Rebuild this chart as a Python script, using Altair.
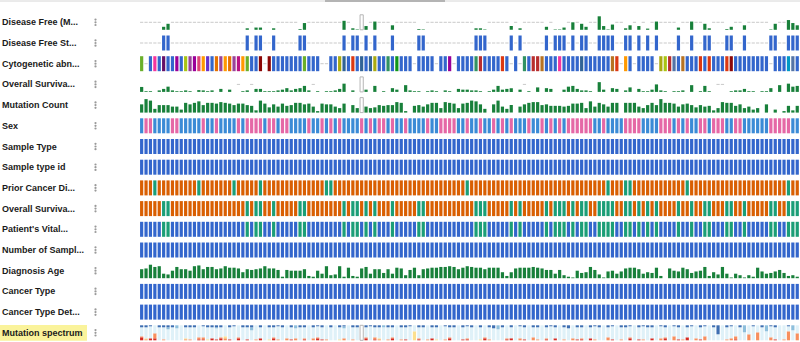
import altair as alt
import pandas as pd

N = 150

track_labels = [
    "Disease Free (M...", "Disease Free St...", "Cytogenetic abn...", "Overall Surviva...",
    "Mutation Count", "Sex", "Sample Type", "Sample type id", "Prior Cancer Di...",
    "Overall Surviva...", "Patient's Vital...", "Number of Sampl...", "Diagnosis Age",
    "Cancer Type", "Cancer Type Det...", "Mutation spectrum",
]

# samples shown as empty outlined boxes (not profiled) in some tracks
outlined_samples = [50]
outlined_tracks = [0, 3, 4, 15]

# Disease Free (Months): sample index -> value (0-10 track units); others NA
disease_free_months = {
    5: 2, 6: 4, 24: 1, 26: 1.5, 27: 1.5, 30: 1, 36: 0.5, 37: 4.5, 46: 6, 48: 1, 49: 0.3,
    51: 2.5, 53: 5.5, 57: 3, 63: 0.5, 64: 0.3, 76: 1, 77: 1, 78: 0.3, 84: 2.5, 86: 1,
    92: 2, 94: 0.3, 95: 0.3, 96: 1.5, 98: 5, 100: 4, 101: 2, 104: 9, 105: 2.5, 106: 0.3,
    107: 3.5, 110: 1, 111: 3, 113: 2.5, 115: 0.8, 117: 5.5, 122: 1.5, 125: 5.5, 128: 4,
    129: 1, 133: 0.5, 134: 2, 137: 3, 143: 0.3, 144: 4, 147: 6.5, 148: 4.5, 149: 3,
}

# Disease Free Status: D = DiseaseFree, n = NA
disease_free_status = (
    "nnnnnDDnnn" "nnnnnnnnnn" "nnnnDnDDnn" "DnnnnnDDnn" "nnnnnnDnDD"
    "nDnDnnnDnn" "nnnDDnnnnn" "nnnnnnDDDn" "nnnnDnDnnn" "nnDnDDDnDn"
    "DDnnDDDDnn" "DDnDnDnDnn" "nnDnnDnnDD" "nnnDDnnDnn" "nnnDDnnDDD"
)

# Cytogenetic abnormalities (one code per sample, n = NA)
cytogenetic = (
    "gnBkBuBBvB" "lwvroyBOwo" "OwmogBBDnD" "BBBBBBBgBB" "BnnBBatBEB"
    "tBtaBBGBhB" "BBnBBBBnBB" "vnBBBBGRBB" "BBEBnBnGBR" "RbBBBkBBBB"
    "tBBBBBBbEn" "oBnBBBBnal" "RsBbBBBEBE" "BBBEDBBBBB" "BBBnBBBcsB"
)

overall_survival_months = [
    3.3, 0.5, 0.5, 0, 1, 2, 3.5, 1, 0.5, 0.5,
    1, 0.5, 0, 1.2, 1, 0.5, 1, 0, 2, 0,
    1.5, 0, None, 0.5, 1, None, 2, 2, 0.5, 0.5,
    0.5, 1, 1.5, 2.5, 1, 2, 2.5, 4, 1, None,
    0.5, 0, 0.5, 0.5, 1, 2, 5.5, 0, 1, 0,
    None, 1.5, 0, 4, 0, 0.5, 0, 2.5, 1.5, 0,
    4.5, 1, 0.5, 0.5, 0, 0.5, 1, 0.5, 0, 1,
    0.5, 0, 2, 1.5, 1.5, 1, 1, 0.5, 0, 0.5,
    1.5, 4, 1.5, 2, 2.5, 0, 1.5, None, 0.5, 0,
    3, 0, 2.5, 2, 0, 0, 1.5, 3.5, 4, 2,
    1, 1, 0.5, 0, 6.5, 1.5, 0, 2.5, 2, 0,
    1, 3, 0, 2, 0.5, 0.5, 1.5, 5, 1, 0.5,
    0, 0.5, 0.5, 1, 0, 4.5, 0, 0.5, 4, 0.5,
    0, None, None, 0, 0.5, 1, 1, 2, 0.5, 0.5,
    0, 0.5, 0.5, 2.5, 0, 4.5, 0, 5.5, 3.5, 4,
]

mutation_count = [
    5.5, 9, 8, 2.5, 5, 5, 5, 4, 4, 2,
    6.5, 5.5, 6.5, 7.5, 5, 6.5, 6.5, 6, 7, 6.5,
    6, 5, 6, 6, 5, 4.5, 1.5, 8, 6, 3.5,
    5.5, 4, 6, 4.5, 5, 6.5, 6.5, 5.5, 6, 4,
    1, 6, 5.5, 5.5, 4, 3, 6, None, 5, 3,
    None, 4, 3, 3.5, 5, 4.5, 5, 5, 7, 6.5,
    1, None, 4.5, 5, 4, 5.5, 6.5, 6.5, 3, 7,
    6.5, 6, 3, 6, 6.5, 8, 7.5, 5.5, 2.5, None,
    5.5, 8, 4, 2.5, 5, None, 4, 5.5, 6.5, 7,
    7, 5, 5.5, 4.5, 4.5, 4.5, 4, 4.5, 6, 6,
    6.5, 3, 7.5, 4, 6.5, 5.5, 4, 6.5, 6.5, None,
    6.5, 6.5, 6.5, 4, 3, 5, 6.5, 5, 9, 6.5,
    6.5, 6, 4, 5.5, 6, 5, 3.5, 5, 4, 4.5,
    1.5, 3, 7, 6.5, 6.5, 4.5, 5.5, 3, 4, 2,
    3, None, 5.5, None, 2, None, 1, 4.5, 1.5, 4.5,
]

# Sex: M = Male, F = Female
sex = (
    "MFFMMMMFFM" "MMMMFMMFMM" "MMFMFFFFMF" "FMFFMMMMFM" "MFMFMFMMMM"
    "FMFMFFMFMM" "FMMMMFMMFF" "FFMMFMMFMM" "FMFMFMMMFM" "MFMFMFMFFF"
    "FFFMMFMMMM" "FFFFMMMMFF" "FMFMFMMFFM" "FFFMMFFMMM" "MMMFFFFFMM"
)

sample_type = ["Primary"] * N
sample_type_id = ["03"] * N

# Prior Cancer Diagnosis: N = No, Y = Yes
prior_cancer = (
    "NNNYNNNNNN" "NNNYNNNNNN" "NYNNNNNYNN" "NNNNNNNNNN" "NNYYNNNNNN"
    "NNNNNNNNNN" "NNNNNNNNNN" "NNNNYNNNNN" "NNNNNNNNNN" "NNNNNNNNNN"
    "NNNNNNYNNN" "YYNNNNNNNN" "NNNNYNNNNN" "NNNNNNNNNN" "NNNNNNNYNN"
)

# Overall Survival Status: D = Deceased, L = Living
os_status = (
    "DDDDDLLDDD" "DDDDDDDDDD" "DDDDLDLLDD" "LDDDDDLLDD" "DDDDDDLDLL"
    "DLDLDDDLDD" "DDDLLDDDDD" "DDDDDDLLLD" "DDDDLDLDDD" "DDLDLLLDLD"
    "LLDDLLLLDD" "LLDLDLDLDD" "DDLDDLDDLL" "DDDLLDDLDD" "DDDLLDDLLL"
)

# Patient's Vital Status: D = Dead, A = Alive
vital_status = (
    "DDDDDAADDD" "DDDDDDDDDD" "DDDDADAADD" "ADDDDDAADD" "DDDDDDADAA"
    "DADADDDADD" "DDDAADDDDD" "DDDDDDAAAD" "DDDDADADDD" "DDADAAADAD"
    "AADDAAAADD" "AADADADADD" "DDADDADDAA" "DDDAADDADD" "DDDAADDAAA"
)

number_of_samples = [1] * N

diagnosis_age = [
    6, 6.5, 9, 7.5, 8, 3, 2.5, 5, 7.5, 6,
    6, 5, 8, 8.5, 6, 7.5, 7.5, 6, 6.5, 8,
    7, 7, 6.5, 4, 6, 5.5, 6, 6.5, 8, 6.5,
    6.5, 5.5, 1, 5.5, 5, 5, 5, 6, 1.5, 1,
    5, 3, 8, 2, 2.5, 8, 1, 7, 1.5, 1,
    6.5, 7.5, 3, 6, 6, 3.5, 6, 3, 7, 6.5,
    2, 5.5, 7, 2, 6, 6.5, 7, 7, 7.5, 7.5,
    8, 7.5, 6, 7, 8, 7.5, 7, 7, 6, 7,
    7, 7, 4, 1.5, 4, 6.5, 7, 7, 7, 7.5,
    7, 6.5, 5.5, 5.5, 3, 5.5, 2, 1, 0.5, 5,
    3.5, 4, 7.5, 5.5, 2.5, 0.5, 4.5, 5, 3, 4.5,
    6.5, 7, 7, 6, 3, 4, 3.5, 7, 1.5, None,
    6.5, 5, 4.5, 7, 6, 3.5, 4.5, 5, 7.5, 1.5,
    4, 2.5, 7.5, 3, 0.5, 3, 2, 0.5, 2, 1,
    7, 4.5, 3, 3.5, 4.5, 5.5, 3.5, 1.5, 2, 1,
]

cancer_type = ["Leukemia"] * N
cancer_type_detailed = ["Acute Myeloid Leukemia"] * N

# Mutation spectrum per sample: C>A, C>G, T>A, T>C, T>G (in 15ths); C>T fills the rest
mutation_spectrum = [
    "20013", "20110", "10002", "00052", "20000", "20010", "22000", "20000", "03000", "00000",
    "20110", "20010", "20000", "00021", "10021", "20100", "20002", "21001", "20012", "00220",
    "20001", "10000", "00012", "20000", "20001", "23000", "00010", "20002", "00000", "20100",
    "20012", "10010", "20000", "00020", "20001", "03020", "20000", "20011", "00000", "20020",
    "10012", "20001", "00010", "20000", "00000", "20100", "12020", "00000", "20010", "20000",
    None, "20012", "10000", "20021", "20110", "02000", "20010", "20012", "00000", "20010",
    "20001", "10000", "00900", "20011", "20000", "00010", "20002", "20100", "00000", "10010",
    "20012", "20000", "00000", "20001", "10011", "20000", "00000", "20100", "00012", "20010",
    "30000", "04000", "20000", "00011", "20002", "00000", "10020", "20001", "00000", "20030",
    "20010", "00000", "20011", "10000", "20002", "00000", "20010", "30000", "00020", "20001",
    "20011", "00000", "20002", "10010", "20000", "00000", "20030", "10001", "00000", "20010",
    "20000", "10012", "00000", "20001", "10010", "20000", "20002", "00000", "10020", "20012",
    "00000", "10040", "20001", "00010", "20003", "10000", "00020", "20001", "10040", "00000",
    "20000", "90000", "00000", "20010", "10020", "00031", "20000", "07000", "00060", "10000",
    "00080", "20000", "06000", "10030", "20001", "00000", "00010", "10090", "05000", "00070",
]

for seq in [disease_free_status, cytogenetic, overall_survival_months, mutation_count, sex,
            prior_cancer, os_status, vital_status, diagnosis_age, mutation_spectrum]:
    assert len(seq) == N, len(seq)

# ---------------- styles ----------------
palette = {
    "numeric": "#18803a", "blue": "#3366cc", "male": "#3b8bd6", "female": "#e568a6",
    "orange": "#d95f02", "teal": "#1b9e77",
    "C>A": "#3d6eb1", "C>G": "#8ebfdc", "C>T": "#dff1f8",
    "T>A": "#fce08e", "T>C": "#f78f5e", "T>G": "#d62b23",
}
cyto_colors = {
    "g": "#6aaf2a", "k": "#f4359e", "u": "#651067", "v": "#990099", "w": "#994499",
    "r": "#dd4477", "o": "#ff9900", "O": "#e67300", "y": "#6633cc", "m": "#b91383",
    "l": "#a9c413", "D": "#8b0707", "R": "#b82e2e", "E": "#dc3912", "a": "#aaaa11",
    "t": "#316395", "G": "#329262", "h": "#109618", "c": "#0099c6", "b": "#b77322",
    "s": "#5574a6",
}
for code, col in cyto_colors.items():
    palette["cyto_" + code] = col

PITCH = 20.7          # px between track tops
TOP0 = 14.8           # px top of first track
TRACK_H = 15 / PITCH  # track height in track units
COL_PX = 4.4          # px per sample
COL0 = 141.65         # px center of sample 0
HALF = 1.6 / COL_PX   # half bar width
NA_T = 0.5 / PITCH

X_DOMAIN = [-COL0 / COL_PX, (800 - COL0) / COL_PX]
Y_DOMAIN = [-TOP0 / PITCH, (342 - TOP0) / PITCH]

bars, dashes, boxes = [], [], []


def add_bar(track, col, lo, hi, key):
    bars.append({"xa": col - HALF, "xb": col + HALF,
                 "ya": track + TRACK_H * (1 - hi), "yb": track + TRACK_H * (1 - lo),
                 "key": key})


def add_dash(track, col):
    mid = track + TRACK_H / 2
    dashes.append({"xa": col - HALF, "xb": col + HALF, "ya": mid - NA_T, "yb": mid + NA_T})


def add_box(track, col):
    boxes.append({"xa": col - HALF, "xb": col + HALF, "ya": track, "yb": track + TRACK_H})


def numeric_track(track, values, na_dash):
    for i, v in enumerate(values):
        if track in outlined_tracks and i in outlined_samples:
            add_box(track, i)
        elif v is None:
            if na_dash:
                add_dash(track, i)
        elif v > 0:
            add_bar(track, i, 0, v / 10, "numeric")


def categorical_track(track, values, mapping):
    for i, v in enumerate(values):
        key = mapping(v)
        if key is None:
            add_dash(track, i)
        else:
            add_bar(track, i, 0, 1, key)


numeric_track(0, [disease_free_months.get(i) for i in range(N)], True)
categorical_track(1, disease_free_status, lambda c: "blue" if c == "D" else None)
categorical_track(2, cytogenetic, lambda c: None if c == "n" else ("blue" if c == "B" else "cyto_" + c))
numeric_track(3, overall_survival_months, True)
numeric_track(4, mutation_count, False)
categorical_track(5, sex, lambda c: "male" if c == "M" else "female")
categorical_track(6, sample_type, lambda c: "blue")
categorical_track(7, sample_type_id, lambda c: "blue")
categorical_track(8, prior_cancer, lambda c: "teal" if c == "Y" else "orange")
categorical_track(9, os_status, lambda c: "teal" if c == "L" else "orange")
categorical_track(10, vital_status, lambda c: "teal" if c == "A" else "blue")
categorical_track(11, number_of_samples, lambda c: "blue")
numeric_track(12, diagnosis_age, False)
categorical_track(13, cancer_type, lambda c: "blue")
categorical_track(14, cancer_type_detailed, lambda c: "blue")

for i, s in enumerate(mutation_spectrum):
    if s is None:
        add_box(15, i)
        continue
    ca, cg, ta, tc, tg = [int(ch) for ch in s]
    ct = 15 - (ca + cg + ta + tc + tg)
    lo = 0
    for key, amount in [("T>G", tg), ("T>C", tc), ("T>A", ta), ("C>T", ct), ("C>G", cg), ("C>A", ca)]:
        if amount > 0:
            add_bar(15, i, lo / 15, (lo + amount) / 15, key)
            lo += amount

bars_df = pd.DataFrame(bars)
dash_df = pd.DataFrame(dashes)
box_df = pd.DataFrame(boxes)
label_df = pd.DataFrame({"label": track_labels,
                         "yc": [k + TRACK_H / 2 for k in range(len(track_labels))]})
dots_df = pd.DataFrame({"yd": [k + TRACK_H / 2 + d / PITCH
                               for k in range(len(track_labels)) for d in (-2.7, 0, 2.7)]})
hl_df = pd.DataFrame({"ya": [15 - 0.02], "yb": [15 + TRACK_H + 0.02]})

xs = alt.Scale(domain=X_DOMAIN, nice=False, zero=False)
ys = alt.Scale(domain=Y_DOMAIN, nice=False, zero=False, reverse=True)

X = alt.X("xa:Q", scale=xs, axis=None)
Y = alt.Y("ya:Q", scale=ys, axis=None)

keys = list(palette.keys())
bars_layer = alt.Chart(bars_df).mark_rect().encode(
    x=X, x2="xb", y=Y, y2="yb",
    color=alt.Color("key:N", scale=alt.Scale(domain=keys, range=[palette[k] for k in keys]), legend=None),
)
dash_layer = alt.Chart(dash_df).mark_rect(color="#c9c9c9").encode(x=X, x2="xb", y=Y, y2="yb")
box_layer = alt.Chart(box_df).mark_rect(fill="white", stroke="#b5b5b5", strokeWidth=1).encode(
    x=X, x2="xb", y=Y, y2="yb")
hl_layer = alt.Chart(hl_df).mark_rect(color="#faf39b").encode(
    x=alt.value(0), x2=alt.value(87), y=Y, y2="yb")
label_layer = alt.Chart(label_df).mark_text(
    align="left", baseline="middle", fontSize=9, fontWeight="bold",
    font="Liberation Sans", color="#1a1a1a",
).encode(x=alt.value(2), y=alt.Y("yc:Q", scale=ys, axis=None), text="label:N")
dots_layer = alt.Chart(dots_df).mark_circle(size=5, color="#9a9a9a", opacity=1).encode(
    x=alt.value(95.5), y=alt.Y("yd:Q", scale=ys, axis=None))
frame_df = pd.DataFrame({"a": [0]})
top_line = alt.Chart(frame_df).mark_rule(color="#d6d6d6").encode(
    x=alt.value(0), x2=alt.value(800), y=alt.value(1))
top_tab = alt.Chart(frame_df).mark_rule(color="#b4b4b4", strokeWidth=2).encode(
    x=alt.value(325), x2=alt.value(445), y=alt.value(1))

chart = alt.layer(top_line, top_tab, hl_layer, dash_layer, box_layer, bars_layer, label_layer, dots_layer).properties(
    width=800, height=342, padding=0, autosize=alt.AutoSizeParams(type="none"),
).configure_view(strokeWidth=0)

chart.save("out.html", embed_options={"renderer": "svg", "actions": False})
